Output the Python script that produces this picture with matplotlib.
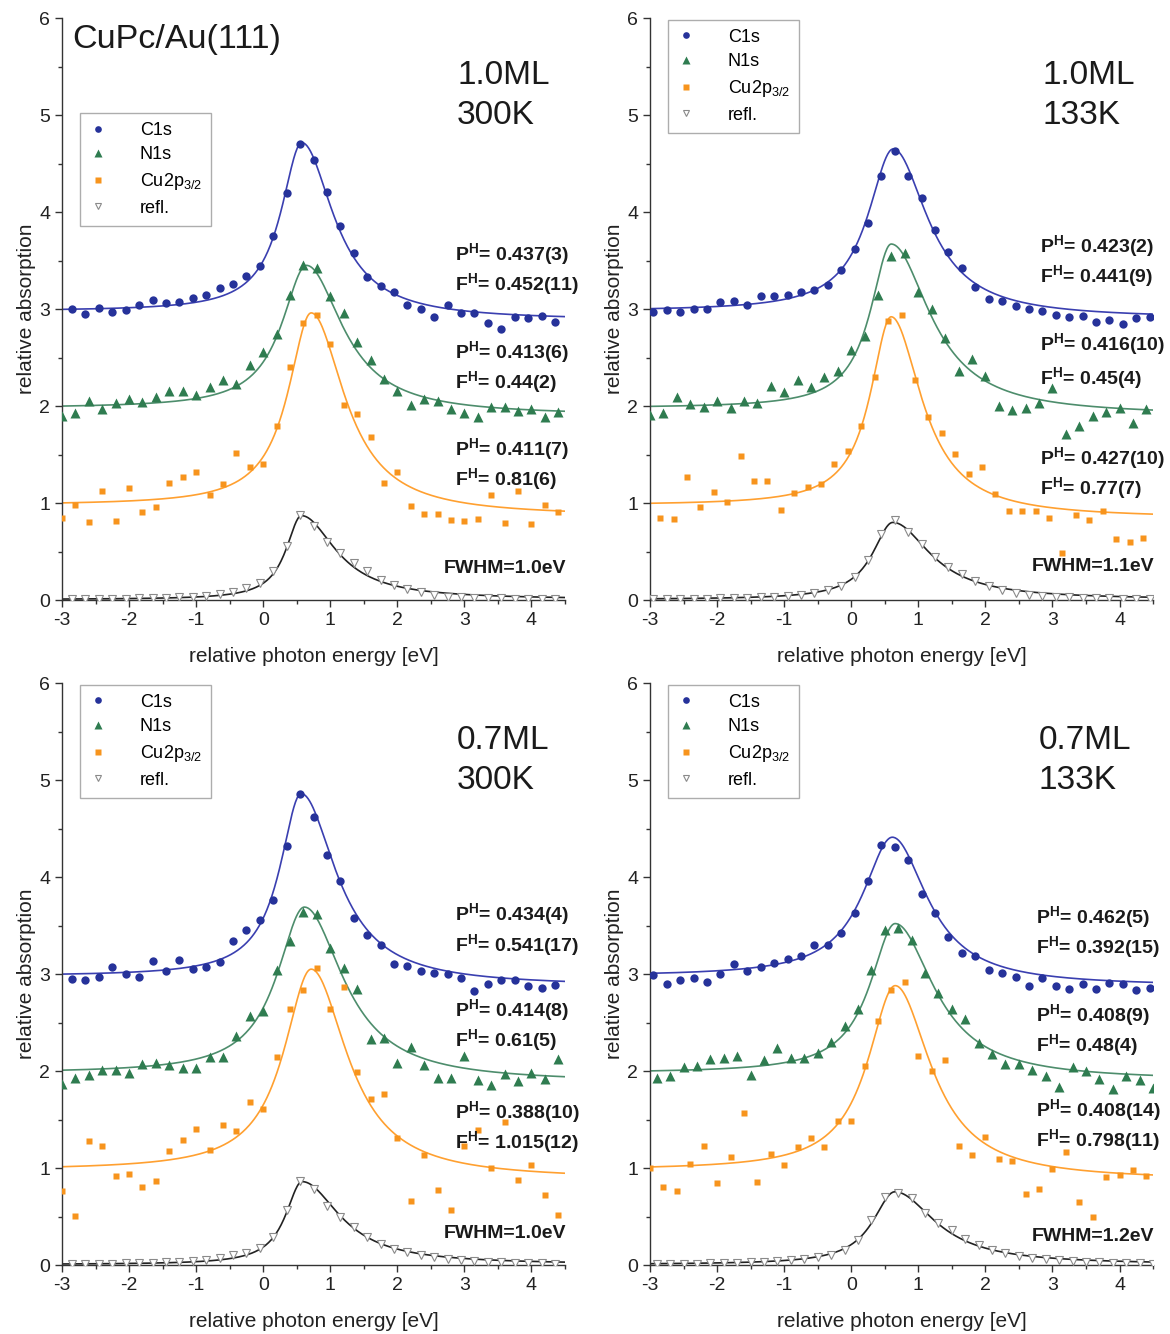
import numpy as np
import matplotlib
matplotlib.use("Agg")
import matplotlib.pyplot as plt
from matplotlib.ticker import MultipleLocator

params = {'font.family': ['Liberation Sans', 'DejaVu Sans'],
          'mathtext.fontset': 'custom',
          'mathtext.rm': 'Liberation Sans',
          'mathtext.bf': 'Liberation Sans:bold',
          'mathtext.default': 'regular',
          'axes.unicode_minus': False,
          'axes.linewidth': 1.0,
          'axes.edgecolor': '#333333',
          'xtick.color': '#333333',
          'ytick.color': '#333333',
          'xtick.labelcolor': '#222222',
          'ytick.labelcolor': '#222222'}
plt.rcParams.update(params)

# photon energy grids of the scans (eV)
E_300 = [-3.0, -2.8, -2.6, -2.4, -2.2, -2.0, -1.8, -1.6, -1.4, -1.2, -1.0, -0.8, -0.6, -0.4, -0.2,
         0.0, 0.2, 0.4, 0.6, 0.8, 1.0, 1.2, 1.4, 1.6, 1.8, 2.0, 2.2, 2.4, 2.6, 2.8, 3.0, 3.2, 3.4,
         3.6, 3.8, 4.0, 4.2, 4.4]
E_295 = [-2.95, -2.75, -2.55, -2.35, -2.15, -1.95, -1.75, -1.55, -1.35, -1.15, -0.95, -0.75, -0.55,
         -0.35, -0.15, 0.05, 0.25, 0.45, 0.65, 0.85, 1.05, 1.25, 1.45, 1.65, 1.85, 2.05, 2.25, 2.45,
         2.65, 2.85, 3.05, 3.25, 3.45, 3.65, 3.85, 4.05, 4.25, 4.45]
E_290 = [-2.9, -2.7, -2.5, -2.3, -2.1, -1.9, -1.7, -1.5, -1.3, -1.1, -0.9, -0.7, -0.5, -0.3, -0.1,
         0.1, 0.3, 0.5, 0.7, 0.9, 1.1, 1.3, 1.5, 1.7, 1.9, 2.1, 2.3, 2.5, 2.7, 2.9, 3.1, 3.3, 3.5,
         3.7, 3.9, 4.1, 4.3, 4.5]
E_285 = [-2.85, -2.65, -2.45, -2.25, -2.05, -1.85, -1.65, -1.45, -1.25, -1.05, -0.85, -0.65, -0.45,
         -0.25, -0.05, 0.15, 0.35, 0.55, 0.75, 0.95, 1.15, 1.35, 1.55, 1.75, 1.95, 2.15, 2.35, 2.55,
         2.75, 2.95, 3.15, 3.35, 3.55, 3.75, 3.95, 4.15, 4.35]

# ---- 1.0 ML, 300 K
p1_c1s = [3.00, 2.95, 3.01, 2.97, 2.99, 3.04, 3.09, 3.06, 3.07, 3.11, 3.14, 3.22, 3.26, 3.34, 3.44,
          3.75, 4.20, 4.70, 4.54, 4.21, 3.86, 3.58, 3.33, 3.24, 3.18, 3.04, 3.00, 2.92, 3.04, 2.96,
          2.96, 2.86, 2.79, 2.92, 2.91, 2.93, 2.87]
p1_n1s = [1.90, 1.93, 2.05, 1.97, 2.03, 2.07, 2.04, 2.09, 2.16, 2.16, 2.11, 2.20, 2.27, 2.23, 2.42,
          2.56, 2.74, 3.14, 3.45, 3.42, 3.13, 2.96, 2.66, 2.47, 2.28, 2.16, 2.01, 2.07, 2.05, 1.97,
          1.93, 1.89, 1.99, 1.99, 1.95, 1.97, 1.89, 1.94]
p1_cu = [0.85, 0.98, 0.80, 1.12, 0.81, 1.16, 0.91, 0.96, 1.21, 1.27, 1.32, 1.08, 1.20, 1.52, 1.37,
         1.40, 1.79, 2.40, 2.86, 2.94, 2.64, 2.01, 1.92, 1.68, 1.21, 1.32, 0.97, 0.89, 0.89, 0.83,
         0.81, 0.84, 1.08, 0.79, 1.12, 0.78, 0.98, 0.91]
p1_refl = [0.01, 0.01, 0.01, 0.015, 0.015, 0.02, 0.02, 0.025, 0.03, 0.035, 0.045, 0.06, 0.085, 0.12,
           0.18, 0.30, 0.56, 0.88, 0.76, 0.60, 0.49, 0.38, 0.30, 0.21, 0.155, 0.11, 0.08, 0.05,
           0.035, 0.03, 0.025, 0.02, 0.02, 0.015, 0.015, 0.01, 0.01]
# fit parameters: (centre, amplitude, left width, right width, left base, right base)
p1_fit = [(0.58, 1.785, 0.38, 0.57, 2.98, 2.88),
          (0.65, 1.51, 0.45, 0.65, 1.98, 1.90),
          (0.72, 2.04, 0.42, 0.60, 0.98, 0.86),
          (0.57, 0.865, 0.28, 0.62, 0.005, 0.005)]
p1_text = ["P$^{H}$= 0.437(3)", "F$^{H}$= 0.452(11)",
           "P$^{H}$= 0.413(6)", "F$^{H}$= 0.44(2)",
           "P$^{H}$= 0.411(7)", "F$^{H}$= 0.81(6)"]
p1_text_y = [3.57, 3.26, 2.56, 2.25, 1.56, 1.25]

# ---- 1.0 ML, 133 K
p2_c1s = [2.97, 2.99, 2.97, 3.00, 3.00, 3.07, 3.08, 3.04, 3.13, 3.13, 3.14, 3.18, 3.20, 3.25, 3.40,
          3.62, 3.89, 4.37, 4.63, 4.37, 4.14, 3.81, 3.59, 3.42, 3.23, 3.10, 3.08, 3.03, 3.00, 2.98,
          2.94, 2.92, 2.93, 2.87, 2.89, 2.85, 2.91, 2.92]
p2_n1s = [1.91, 1.93, 2.09, 2.02, 1.99, 2.05, 1.98, 2.05, 2.03, 2.21, 2.14, 2.27, 2.20, 2.30, 2.36,
          2.58, 2.72, 3.14, 3.55, 3.58, 3.18, 3.00, 2.70, 2.36, 2.48, 2.31, 2.00, 1.96, 1.98, 2.03,
          2.19, 1.71, 1.79, 1.90, 1.94, 1.98, 1.83, 1.97]
p2_cu = [0.85, 0.84, 1.27, 0.96, 1.11, 1.01, 1.48, 1.23, 1.23, 0.93, 1.10, 1.17, 1.20, 1.40, 1.54,
         1.79, 2.30, 2.88, 2.94, 2.27, 1.89, 1.72, 1.51, 1.30, 1.37, 1.09, 0.92, 0.92, 0.92, 0.85,
         0.49, 0.88, 0.82, 0.92, 0.63, 0.60, 0.64]
p2_refl = [0.01, 0.01, 0.01, 0.015, 0.015, 0.02, 0.02, 0.025, 0.03, 0.035, 0.04, 0.05, 0.07, 0.10,
           0.145, 0.24, 0.41, 0.68, 0.83, 0.70, 0.58, 0.44, 0.34, 0.27, 0.20, 0.14, 0.10, 0.07,
           0.05, 0.04, 0.035, 0.03, 0.025, 0.02, 0.02, 0.015, 0.015, 0.01]
p2_fit = [(0.63, 1.71, 0.46, 0.62, 2.98, 2.90),
          (0.60, 1.73, 0.38, 0.70, 1.98, 1.90),
          (0.60, 2.01, 0.38, 0.55, 0.98, 0.84),
          (0.62, 0.795, 0.37, 0.68, 0.005, 0.005)]
p2_text = ["P$^{H}$= 0.423(2)", "F$^{H}$= 0.441(9)",
           "P$^{H}$= 0.416(10)", "F$^{H}$= 0.45(4)",
           "P$^{H}$= 0.427(10)", "F$^{H}$= 0.77(7)"]
p2_text_y = [3.65, 3.34, 2.64, 2.29, 1.46, 1.15]

# ---- 0.7 ML, 300 K
p3_c1s = [2.95, 2.94, 2.97, 3.07, 3.00, 2.97, 3.13, 3.03, 3.14, 3.05, 3.07, 3.12, 3.34, 3.45, 3.56,
          3.76, 4.32, 4.86, 4.62, 4.23, 3.96, 3.58, 3.40, 3.30, 3.10, 3.08, 3.03, 3.01, 3.00, 2.96,
          2.83, 2.90, 2.94, 2.94, 2.88, 2.86, 2.89]
p3_n1s = [1.87, 1.93, 1.96, 2.01, 2.01, 1.98, 2.07, 2.08, 2.06, 2.03, 2.03, 2.14, 2.14, 2.36, 2.57,
          2.62, 3.04, 3.34, 3.64, 3.62, 3.27, 3.06, 2.85, 2.33, 2.34, 2.08, 2.25, 2.06, 1.93, 1.93,
          2.16, 1.91, 1.86, 1.97, 1.90, 1.98, 1.92, 2.12]
p3_cu = [0.76, 0.51, 1.28, 1.23, 0.92, 0.94, 0.80, 0.87, 1.18, 1.29, 1.40, 1.19, 1.44, 1.38, 1.68,
         1.61, 2.14, 2.64, 2.84, 3.06, 2.64, 2.87, 1.99, 1.71, 1.76, 1.31, 0.66, 1.13, 0.77, 0.57,
         1.23, 1.39, 1.00, 1.47, 0.88, 1.03, 0.72, 0.52]
p3_refl = [0.01, 0.01, 0.015, 0.015, 0.02, 0.02, 0.025, 0.03, 0.035, 0.04, 0.05, 0.07, 0.10, 0.12,
           0.18, 0.29, 0.57, 0.87, 0.78, 0.61, 0.50, 0.39, 0.29, 0.22, 0.17, 0.13, 0.10, 0.08,
           0.065, 0.05, 0.045, 0.035, 0.03, 0.025, 0.02, 0.02, 0.015]
p3_fit = [(0.57, 1.935, 0.39, 0.63, 2.98, 2.87),
          (0.62, 1.76, 0.50, 0.70, 1.98, 1.88),
          (0.72, 2.12, 0.50, 0.65, 0.98, 0.88),
          (0.58, 0.855, 0.30, 0.68, 0.005, 0.005)]
p3_text = ["P$^{H}$= 0.434(4)", "F$^{H}$= 0.541(17)",
           "P$^{H}$= 0.414(8)", "F$^{H}$= 0.61(5)",
           "P$^{H}$= 0.388(10)", "F$^{H}$= 1.015(12)"]
p3_text_y = [3.62, 3.30, 2.63, 2.32, 1.58, 1.27]

# ---- 0.7 ML, 133 K
p4_c1s = [2.99, 2.90, 2.94, 2.96, 2.92, 3.00, 3.10, 3.03, 3.07, 3.11, 3.15, 3.19, 3.30, 3.30, 3.42,
          3.63, 3.96, 4.33, 4.31, 4.18, 3.83, 3.63, 3.38, 3.22, 3.19, 3.04, 3.01, 2.97, 2.88, 2.96,
          2.88, 2.85, 2.90, 2.85, 2.91, 2.90, 2.84, 2.86]
p4_n1s = [1.93, 1.95, 2.04, 2.05, 2.12, 2.13, 2.15, 1.96, 2.11, 2.24, 2.13, 2.13, 2.19, 2.30, 2.46,
          2.64, 3.04, 3.45, 3.47, 3.35, 3.01, 2.80, 2.64, 2.54, 2.29, 2.18, 2.07, 2.07, 2.01, 1.95,
          1.84, 2.04, 2.00, 1.92, 1.81, 1.95, 1.91, 1.83]
p4_cu = [1.00, 0.80, 0.76, 1.04, 1.23, 0.85, 1.11, 1.57, 0.86, 1.14, 1.03, 1.22, 1.31, 1.22, 1.48,
         1.48, 2.05, 2.52, 2.84, 2.92, 2.15, 2.00, 2.11, 1.23, 1.13, 1.32, 1.09, 1.07, 0.73, 0.78,
         0.99, 1.17, 0.65, 0.50, 0.91, 0.93, 0.98, 0.92]
p4_refl = [0.01, 0.01, 0.015, 0.015, 0.02, 0.02, 0.025, 0.03, 0.035, 0.04, 0.05, 0.065, 0.08, 0.10,
           0.155, 0.26, 0.46, 0.70, 0.74, 0.69, 0.54, 0.43, 0.36, 0.27, 0.21, 0.16, 0.12, 0.09,
           0.075, 0.065, 0.05, 0.04, 0.035, 0.03, 0.025, 0.02, 0.02, 0.015]
p4_fit = [(0.62, 1.485, 0.54, 0.63, 2.98, 2.87),
          (0.66, 1.58, 0.46, 0.70, 1.98, 1.90),
          (0.66, 1.955, 0.50, 0.64, 0.98, 0.87),
          (0.65, 0.75, 0.40, 0.73, 0.005, 0.005)]
p4_text = ["P$^{H}$= 0.462(5)", "F$^{H}$= 0.392(15)",
           "P$^{H}$= 0.408(9)", "F$^{H}$= 0.48(4)",
           "P$^{H}$= 0.408(14)", "F$^{H}$= 0.798(11)"]
p4_text_y = [3.59, 3.28, 2.58, 2.27, 1.60, 1.29]

coverage = ["1.0ML", "1.0ML", "0.7ML", "0.7ML"]
temperature = ["300K", "133K", "300K", "133K"]
fwhm = ["FWHM=1.0eV", "FWHM=1.1eV", "FWHM=1.0eV", "FWHM=1.2eV"]
fwhm_y = [0.33, 0.35, 0.33, 0.29]
text_x = [2.86, 2.82, 2.86, 2.76]
series_labels = ["C1s", "N1s", "Cu2p$_{3/2}$", "refl."]

dot_colors = ['#26329a', '#2f7c50', '#f7941d', '#8a8a8a']
line_colors = ['#3a3fb0', '#4d8d6c', '#ffa030', '#222222']


# asymmetric Lorentzian on a smooth step, as used for the fits
def fit_curve(x, x0, amp, gl, gr, bl, br):
    g = np.where(x < x0, gl, gr)
    step = 0.5 + np.arctan((x - x0) / g) / np.pi
    return bl + (br - bl) * step + amp / (1 + ((x - x0) / g) ** 2)


def draw_panel(ax, energies, series, fits, texts, texts_y, idx):
    xf = np.linspace(-3, 4.5, 600)
    styles = [dict(marker='o', ms=6, color=dot_colors[0], mec='none'),
              dict(marker='^', ms=6.5, color=dot_colors[1], mec='none'),
              dict(marker='s', ms=5, color=dot_colors[2], mec='none'),
              dict(marker='v', ms=5.5, mfc='white', mec=dot_colors[3], mew=0.8)]
    for i in range(4):
        ax.plot(xf, fit_curve(xf, *fits[i]), color=line_colors[i], lw=1.2, zorder=2)
    for i in range(4):
        ax.plot(energies[i], series[i], ls='none', label=series_labels[i], zorder=3, **styles[i])

    ax.set_xlim(-3, 4.5)
    ax.set_ylim(0, 6)
    ax.xaxis.set_major_locator(MultipleLocator(1))
    ax.xaxis.set_minor_locator(MultipleLocator(0.5))
    ax.yaxis.set_major_locator(MultipleLocator(1))
    ax.yaxis.set_minor_locator(MultipleLocator(0.5))
    ax.tick_params(which='major', direction='out', length=5, width=1, labelsize=14)
    ax.tick_params(which='minor', direction='out', length=3, width=1)
    ax.spines['top'].set_visible(False)
    ax.spines['right'].set_visible(False)
    ax.set_xlabel("relative photon energy [eV]", fontsize=15, labelpad=13, color='#222222')
    ax.set_ylabel("relative absorption", fontsize=15, labelpad=2, color='#222222')

    for t, ty in zip(texts, texts_y):
        ax.text(text_x[idx], ty, t, fontsize=14, fontweight='bold', va='center', ha='left',
                color='#1a1a1a', clip_on=False)
    ax.text(4.52, fwhm_y[idx], fwhm[idx], fontsize=14, fontweight='bold', va='center', ha='right',
            color='#1a1a1a', clip_on=False)
    ax.text(text_x[idx] + 0.03, 5.41, coverage[idx], fontsize=24, va='center', ha='left', color='#1a1a1a')
    ax.text(text_x[idx] + 0.03, 4.99, temperature[idx], fontsize=24, va='center', ha='left', color='#1a1a1a')

    leg_top = 0.837 if idx == 0 else 0.997
    leg = ax.legend(loc='upper left', bbox_to_anchor=(0.036, leg_top), borderaxespad=0,
                    fontsize=13, frameon=True, fancybox=False, edgecolor='#999999',
                    handlelength=1.0, handletextpad=1.8, labelspacing=0.42, borderpad=0.5,
                    markerscale=0.8)
    leg.get_frame().set_linewidth(1.0)


fig = plt.figure(figsize=(11.7, 13.34), dpi=100)
positions = [[0.053, 0.5502, 0.4299, 0.4363],
             [0.5556, 0.5502, 0.4299, 0.4363],
             [0.053, 0.0517, 0.4299, 0.4363],
             [0.5556, 0.0517, 0.4299, 0.4363]]

panels = [
    ([E_285, E_300, E_300, E_285], [p1_c1s, p1_n1s, p1_cu, p1_refl], p1_fit, p1_text, p1_text_y),
    ([E_295, E_300, E_285, E_295], [p2_c1s, p2_n1s, p2_cu, p2_refl], p2_fit, p2_text, p2_text_y),
    ([E_285, E_300, E_300, E_285], [p3_c1s, p3_n1s, p3_cu, p3_refl], p3_fit, p3_text, p3_text_y),
    ([E_295, E_290, E_300, E_290], [p4_c1s, p4_n1s, p4_cu, p4_refl], p4_fit, p4_text, p4_text_y),
]

for idx, (pos, pan) in enumerate(zip(positions, panels)):
    ax = fig.add_axes(pos)
    draw_panel(ax, *pan, idx)
    if idx == 0:
        ax.text(-2.84, 5.78, "CuPc/Au(111)", fontsize=24.5, va='center', ha='left', color='#1a1a1a')

fig.savefig("out.png", dpi=100)
